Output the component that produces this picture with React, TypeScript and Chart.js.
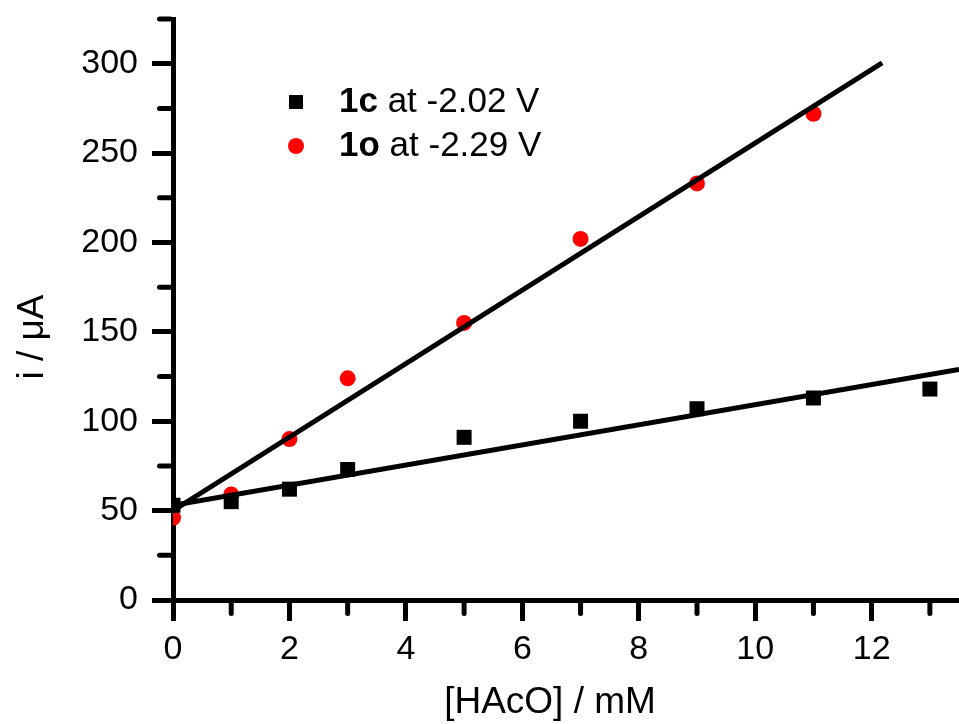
import React, { useEffect, useRef } from "react";
import { Chart, registerables } from "chart.js";

Chart.register(...registerables);

// ---- data ----
const conc1c = [0, 1, 2, 3, 5, 7, 9, 11, 13];
const current1c = [53, 55, 62, 73, 91, 100, 107, 113, 118];
const conc1o = [0, 1, 2, 3, 5, 7, 9, 11];
const current1o = [46, 59, 90, 124, 155, 202, 233, 272];

// linear fit lines (end points)
const fit1cX = [0, 13.5];
const fit1cY = [53, 129];
const fit1oX = [0, 12.18];
const fit1oY = [50, 300.5];

// axes
const xMin = 0;
const xMax = 13.5;
const xMajorStep = 2;
const xMinorTicks = [1, 3, 5, 7, 9, 11, 13];
const yMin = 0;
const yMax = 325;
const yMajorStep = 50;
const yMinorTicks = [25, 75, 125, 175, 225, 275, 325];

const legendLabels = [
  { bold: "1c", rest: " at -2.02 V" },
  { bold: "1o", rest: " at -2.29 V" },
];
const xTitle = "[HAcO] / mM";
const yTitle = "i / \u03bcA";

const FONT = "'Liberation Sans', Arial, sans-serif";

const toPts = (xs: number[], ys: number[]) => xs.map((x, i) => ({ x, y: ys[i] }));

const decorPlugin = {
  id: "decor",
  afterDraw(chart: any) {
    const ctx = chart.ctx;
    const xs = chart.scales.x;
    const ys = chart.scales.y;
    const area = chart.chartArea;
    ctx.save();
    // minor ticks
    ctx.strokeStyle = "#000";
    ctx.lineWidth = 5;
    ctx.lineCap = "round";
    const axisHalf = 2.5;
    const minorLen = 11;
    xMinorTicks.forEach((v) => {
      const px = xs.getPixelForValue(v);
      if (px > area.right + 1) return;
      ctx.beginPath();
      ctx.moveTo(px, area.bottom + axisHalf);
      ctx.lineTo(px, area.bottom + axisHalf + minorLen);
      ctx.stroke();
    });
    yMinorTicks.forEach((v) => {
      const py = ys.getPixelForValue(v);
      ctx.beginPath();
      ctx.moveTo(area.left - axisHalf, py);
      ctx.lineTo(area.left - axisHalf - minorLen, py);
      ctx.stroke();
    });

    // legend
    const lx = 296;
    const rows = [102, 146];
    ctx.fillStyle = "#000";
    ctx.fillRect(lx - 7, rows[0] - 7, 14, 14);
    ctx.fillStyle = "#ff0000";
    ctx.beginPath();
    ctx.arc(lx, rows[1], 8, 0, Math.PI * 2);
    ctx.fill();
    ctx.fillStyle = "#000";
    ctx.textBaseline = "middle";
    ctx.textAlign = "left";
    legendLabels.forEach((l, i) => {
      let tx = 339;
      ctx.font = `bold 35px ${FONT}`;
      ctx.fillText(l.bold, tx, rows[i]);
      tx += ctx.measureText(l.bold).width;
      ctx.font = `35px ${FONT}`;
      ctx.fillText(l.rest, tx, rows[i]);
    });

    // axis titles
    ctx.textAlign = "center";
    ctx.font = `37px ${FONT}`;
    ctx.fillText(xTitle, 550, 703);
    ctx.save();
    ctx.translate(33, 337);
    ctx.rotate(-Math.PI / 2);
    ctx.font = `37px ${FONT}`;
    ctx.fillText(yTitle, 0, 0);
    ctx.restore();
    ctx.restore();
  },
};

export default function App() {
  const ref = useRef<HTMLCanvasElement | null>(null);
  useEffect(() => {
    if (!ref.current) return;
    const chart = new Chart(ref.current, {
      type: "scatter",
      data: {
        datasets: [
          {
            label: "1c fit",
            data: toPts(fit1cX, fit1cY),
            showLine: true,
            borderColor: "#000",
            borderWidth: 5,
            pointRadius: 0,
            order: 0,
          },
          {
            label: "1o fit",
            data: toPts(fit1oX, fit1oY),
            showLine: true,
            borderColor: "#000",
            borderWidth: 5,
            pointRadius: 0,
            order: 0,
          },
          {
            label: "1c at -2.02 V",
            data: toPts(conc1c, current1c),
            pointStyle: "rect",
            pointRadius: 10.6,
            pointBorderWidth: 0,
            backgroundColor: "#000",
            borderColor: "#000",
            clip: 0,
            order: 1,
          },
          {
            label: "1o at -2.29 V",
            data: toPts(conc1o, current1o),
            pointStyle: "circle",
            pointRadius: 8,
            pointBorderWidth: 0,
            backgroundColor: "#ff0000",
            borderColor: "#ff0000",
            clip: 0,
            order: 1,
          },
        ],
      },
      options: {
        animation: false,
        responsive: false,
        maintainAspectRatio: false,
        layout: { autoPadding: false, padding: { top: 19, left: 0, right: 0, bottom: 0 } },
        plugins: {
          legend: { display: false },
          tooltip: { enabled: false },
          title: { display: false },
        },
        scales: {
          x: {
            type: "linear",
            min: xMin,
            max: xMax,
            ticks: {
              stepSize: xMajorStep,
              includeBounds: false,
              color: "#000",
              font: { family: FONT, size: 34 },
              padding: 8,
              maxRotation: 0,
            },
            grid: {
              drawOnChartArea: false,
              drawTicks: true,
              tickLength: 21,
              tickWidth: 5,
              tickColor: "#000",
              color: "#000",
              lineWidth: 5,
            },
            border: { display: true, color: "#000", width: 5 },
            afterFit: (s: any) => {
              s.height = 124;
              s.paddingLeft = 0;
              s.paddingRight = 0;
            },
          },
          y: {
            type: "linear",
            min: yMin,
            max: yMax,
            ticks: {
              stepSize: yMajorStep,
              includeBounds: false,
              color: "#000",
              font: { family: FONT, size: 34 },
              padding: 14,
            },
            grid: {
              drawOnChartArea: false,
              drawTicks: true,
              tickLength: 21,
              tickWidth: 5,
              tickColor: "#000",
              color: "#000",
              lineWidth: 5,
            },
            border: { display: true, color: "#000", width: 5 },
            afterFit: (s: any) => {
              s.width = 173;
              s.paddingTop = 0;
              s.paddingBottom = 0;
            },
          },
        },
      } as any,
      plugins: [decorPlugin],
    });
    return () => chart.destroy();
  }, []);
  return (
    <div style={{ position: "absolute", left: 0, top: 0, width: 959, height: 724, background: "#fff" }}>
      <canvas ref={ref} width={959} height={724} style={{ display: "block", width: 959, height: 724 }} />
    </div>
  );
}
